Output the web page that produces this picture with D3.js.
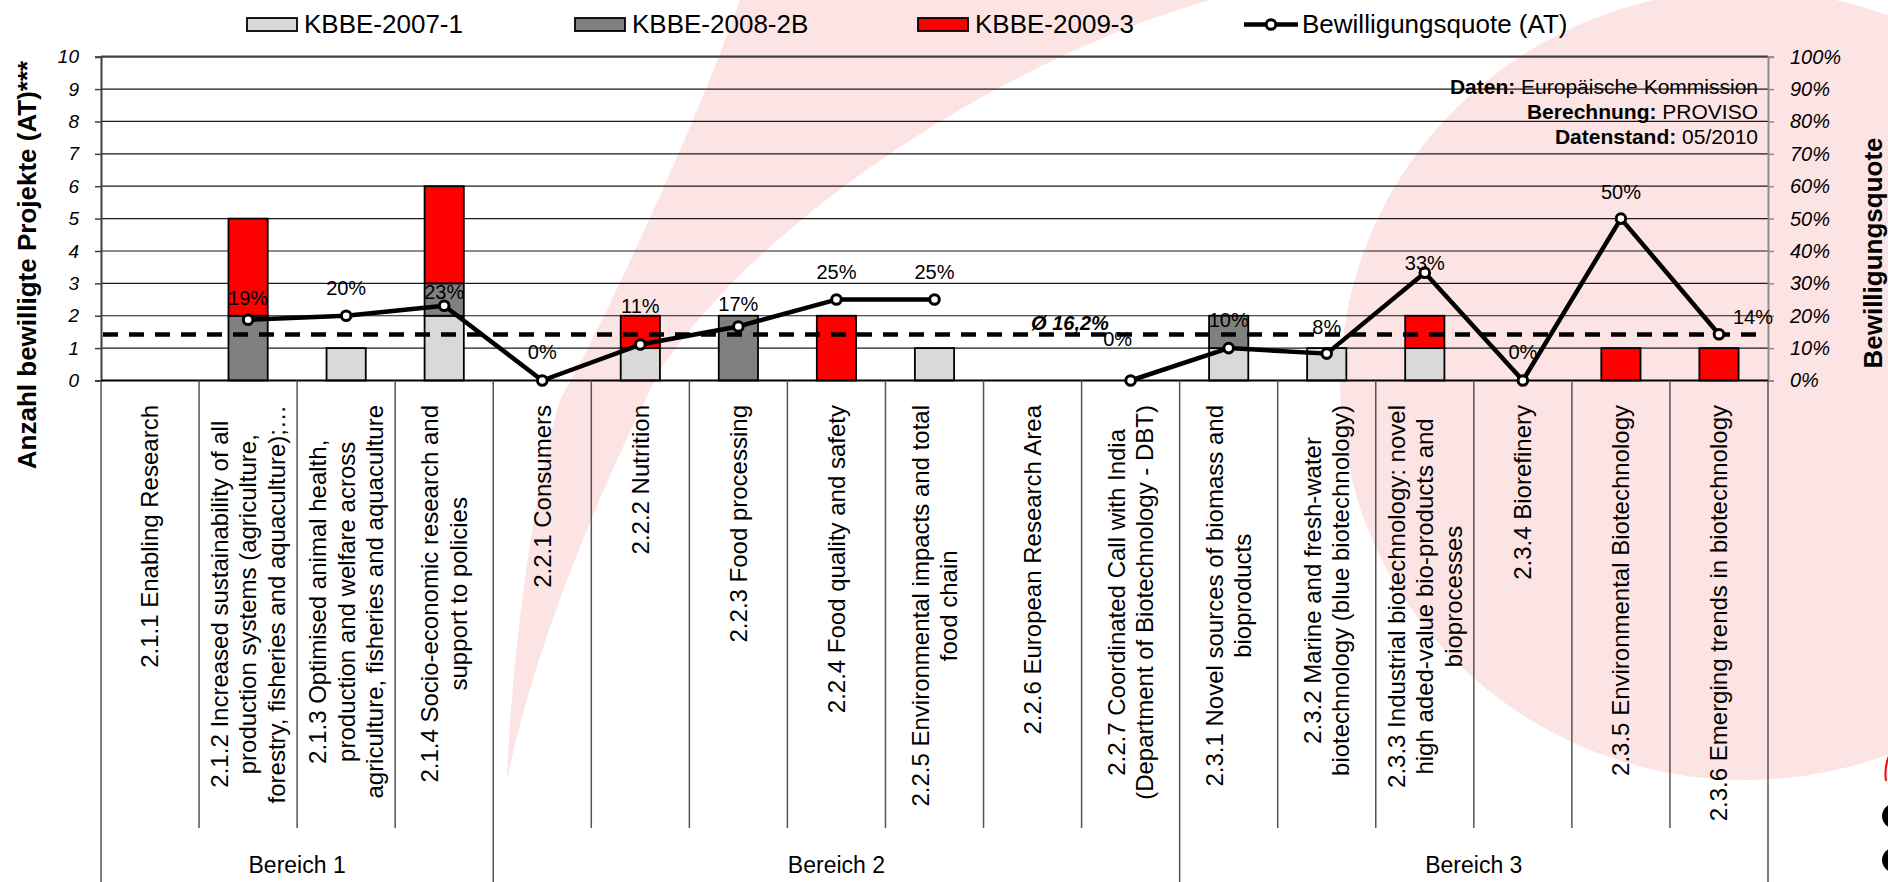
<!DOCTYPE html>
<html><head><meta charset="utf-8">
<script src="https://cdn.jsdelivr.net/npm/d3@7"></script>
<style>
html,body{margin:0;padding:0;background:#fff;}
svg{display:block;font-family:"Liberation Sans", Arial, sans-serif;}
</style></head><body>
<svg id="chart" width="1888" height="882"></svg>
<script>
// ---------- DATA ----------
const categories = [
  ["2.1.1 Enabling Research"],
  ["2.1.2 Increased sustainability of all","production systems (agriculture,","forestry, fisheries and aquaculture);\u2026"],
  ["2.1.3 Optimised animal health,","production and welfare across","agriculture, fisheries and aquaculture"],
  ["2.1.4 Socio-economic research and","support to policies"],
  ["2.2.1 Consumers"],
  ["2.2.2 Nutrition"],
  ["2.2.3 Food processing"],
  ["2.2.4 Food quality and safety"],
  ["2.2.5 Environmental impacts and total","food chain"],
  ["2.2.6 European Research Area"],
  ["2.2.7 Coordinated Call with India","(Department of Biotechnology - DBT)"],
  ["2.3.1 Novel sources of biomass and","bioproducts"],
  ["2.3.2 Marine and fresh-water","biotechnology (blue biotechnology)"],
  ["2.3.3 Industrial biotechnology: novel","high aded-value bio-products and","bioprocesses"],
  ["2.3.4 Biorefinery"],
  ["2.3.5 Environmental Biotechnology"],
  ["2.3.6 Emerging trends in biotechnology"]
];
const groupNames = ["Bereich 1","Bereich 2","Bereich 3"];
const groupSizes = [4, 7, 6];
const kbbe2007 = [0,0,1,2,0,1,0,0,1,0,0,1,1,1,0,0,0];
const kbbe2008 = [0,2,0,1,0,0,2,0,0,0,0,1,0,0,0,0,0];
const kbbe2009 = [0,3,0,3,0,1,0,2,0,0,0,0,0,1,0,1,1];
const quote    = [null,0.1875,0.20,0.231,0,0.111,0.167,0.25,0.25,null,0,0.10,0.083,0.333,0,0.50,0.143];
const avgQuote = 0.142;
const avgLabel = "\u00D8 16,2%";
const leftTicks = [0,1,2,3,4,5,6,7,8,9,10];
const rightTicks = [0,0.1,0.2,0.3,0.4,0.5,0.6,0.7,0.8,0.9,1];
const seriesNames = ["KBBE-2007-1","KBBE-2008-2B","KBBE-2009-3"];
const lineName = "Bewilligungsquote (AT)";
const seriesColors = ["#d9d9d9","#808080","#ff0000"];
const leftTitle = "Anzahl bewilligte Projekte (AT)***";
const rightTitle = "Bewilligungsquote";
const sourceLines = [["Daten:"," Europäische Kommission"],["Berechnung:"," PROVISO"],["Datenstand:"," 05/2010"]];

// ---------- LAYOUT ----------
const L = 101, R = 1768, T = 56.7, B = 380.5;
const labelShift = [[0,0],[0,15],[0,21],[0,7],[0,22],[0,32],[0,15],[0,21],[0,21],[0,0],[-13,35],[0,21],[0,20],[0,3],[0,22],[0,20],[34,10]];
const legendX = [247, 575, 918, 1244];

const svg = d3.select("#chart");
const pink = "#fce4e4";

// background decoration
svg.append("ellipse").attr("cx",1745).attr("cy",385).attr("rx",405).attr("ry",395).attr("fill",pink);
svg.append("path").attr("fill",pink)
  .attr("d","M507,780 C512,650 535,480 560,400 C600,330 690,140 740,0 L1210,0 C1000,60 760,220 660,370 C620,450 540,620 507,780 Z");
svg.append("ellipse").attr("cx",1905).attr("cy",816).attr("rx",20).attr("ry",13).attr("fill","none").attr("stroke","#000").attr("stroke-width",6);
svg.append("ellipse").attr("cx",1905).attr("cy",860).attr("rx",20).attr("ry",13).attr("fill","none").attr("stroke","#000").attr("stroke-width",6);
svg.append("path").attr("d","M1889,756 Q1884,768 1886,781").attr("fill","none").attr("stroke","#f00").attr("stroke-width",2);

// scales
const idx = d3.range(categories.length);
const x = d3.scaleBand().domain(idx).range([L,R]).paddingInner(0).paddingOuter(0);
const bw = x.bandwidth();
const yL = d3.scaleLinear().domain([0,10]).range([B,T]);
const yR = d3.scaleLinear().domain([0,1]).range([B,T]);

// gridlines
svg.append("g").selectAll("line").data(leftTicks.filter(d=>d>0)).join("line")
  .attr("x1",L).attr("x2",R).attr("y1",d=>yL(d)).attr("y2",d=>yL(d))
  .attr("stroke",d=>d===10?"#404040":"#1a1a1a").attr("stroke-width",d=>d===10?2.2:1.2);

// axes
const axL = svg.append("g").attr("transform",`translate(${L},0)`)
  .call(d3.axisLeft(yL).tickValues(leftTicks).tickSize(6).tickPadding(16).tickFormat(d3.format("d")));
axL.select(".domain").attr("stroke","#404040").attr("stroke-width",2);
axL.selectAll(".tick line").attr("stroke","#404040").attr("stroke-width",1.5);
axL.selectAll("text").attr("font-size",19).attr("font-style","italic").attr("fill","#000")
  .attr("font-family","Liberation Sans, Arial, sans-serif");

const axR = svg.append("g").attr("transform",`translate(${R},0)`)
  .call(d3.axisRight(yR).tickValues(rightTicks).tickSize(6).tickPadding(16).tickFormat(d3.format(".0%")));
axR.select(".domain").attr("stroke","#8c8c8c").attr("stroke-width",2);
axR.selectAll(".tick line").attr("stroke","#8c8c8c").attr("stroke-width",1.5);
axR.selectAll("text").attr("font-size",20).attr("font-style","italic").attr("fill","#000")
  .attr("font-family","Liberation Sans, Arial, sans-serif");

// stacked bars
const stackData = idx.map(i => ({i, a:kbbe2007[i], b:kbbe2008[i], c:kbbe2009[i]}));
const stack = d3.stack().keys(["a","b","c"])(stackData);
svg.append("g").selectAll("g").data(stack).join("g")
  .attr("fill",(d,k)=>seriesColors[k])
  .selectAll("rect").data(d=>d.filter(s=>s[1]>s[0])).join("rect")
  .attr("x",s=>x(s.data.i)+bw*0.3).attr("width",bw*0.4)
  .attr("y",s=>yL(s[1])).attr("height",s=>yL(s[0])-yL(s[1]))
  .attr("stroke","#000").attr("stroke-width",1.8);

// bottom axis line
svg.append("line").attr("x1",L).attr("x2",R).attr("y1",B).attr("y2",B).attr("stroke","#000").attr("stroke-width",2);

// category separators
const groupBounds = [0];
groupSizes.forEach(s=>groupBounds.push(groupBounds[groupBounds.length-1]+s));
svg.append("g").selectAll("line").data(d3.range(categories.length+1)).join("line")
  .attr("x1",i=>L+i*bw).attr("x2",i=>L+i*bw).attr("y1",B)
  .attr("y2",i=>groupBounds.includes(i)?882:828)
  .attr("stroke","#555").attr("stroke-width",1.5);

// category labels
const catG = svg.append("g").attr("font-size",24).attr("fill","#000");
categories.forEach((lines,i)=>{
  const g = catG.append("g").attr("transform",`translate(${x(i)+bw/2},405) rotate(-90)`);
  const texts = lines.map((ln,j)=> g.append("text").text(ln)
      .attr("text-anchor","middle").attr("dy","0.35em")
      .attr("y",(j-(lines.length-1)/2)*28.5));
  const maxL = d3.max(texts, t=>t.node().getComputedTextLength());
  texts.forEach(t=>t.attr("x",-maxL/2));
});

// group labels
svg.append("g").selectAll("text").data(groupNames).join("text")
  .attr("x",(d,k)=>L+(groupBounds[k]+groupBounds[k+1])/2*bw).attr("y",873)
  .attr("text-anchor","middle").attr("font-size",23).text(d=>d);

// average dashed line
svg.append("line").attr("x1",L+2).attr("x2",R-4).attr("y1",yR(avgQuote)).attr("y2",yR(avgQuote))
  .attr("stroke","#000").attr("stroke-width",4.5).attr("stroke-dasharray","15,11");
svg.append("text").attr("x",1070).attr("y",330).attr("text-anchor","middle")
  .attr("font-size",20).attr("font-weight","bold").attr("font-style","italic").text(avgLabel);

// quote line
const pts = idx.map(i=>({i, v:quote[i]}));
svg.append("path").datum(pts)
  .attr("d",d3.line().defined(d=>d.v!=null).x(d=>x(d.i)+bw/2).y(d=>yR(d.v)))
  .attr("fill","none").attr("stroke","#000").attr("stroke-width",4.5).attr("stroke-linejoin","round");
const valid = pts.filter(d=>d.v!=null);
svg.append("g").selectAll("circle").data(valid).join("circle")
  .attr("cx",d=>x(d.i)+bw/2).attr("cy",d=>yR(d.v)).attr("r",4.8)
  .attr("fill","#fff").attr("stroke","#000").attr("stroke-width",3);
svg.append("g").selectAll("text").data(valid).join("text")
  .attr("x",d=>x(d.i)+bw/2+labelShift[d.i][0]).attr("y",d=>yR(d.v)-labelShift[d.i][1])
  .attr("text-anchor","middle").attr("font-size",20).text(d=>d3.format(".0%")(d.v));

// source note
const src = svg.append("g").attr("font-size",21);
sourceLines.forEach((p,k)=>{
  const t = src.append("text").attr("x",1758).attr("y",93.5+k*25.3).attr("text-anchor","end");
  t.append("tspan").attr("font-weight","bold").text(p[0]);
  t.append("tspan").text(p[1]);
});

// axis titles
svg.append("text").attr("transform","translate(36,265) rotate(-90)").attr("text-anchor","middle")
  .attr("font-size",26).attr("font-weight","bold").text(leftTitle);
svg.append("text").attr("transform","translate(1882,253) rotate(-90)").attr("text-anchor","middle")
  .attr("font-size",26).attr("font-weight","bold").text(rightTitle);

// legend
const lg = svg.append("g");
seriesNames.forEach((n,k)=>{
  lg.append("rect").attr("x",legendX[k]).attr("y",18).attr("width",50).attr("height",13)
    .attr("fill",seriesColors[k]).attr("stroke","#000").attr("stroke-width",1.8);
  lg.append("text").attr("x",legendX[k]+57).attr("y",33).attr("font-size",26).text(n);
});
lg.append("line").attr("x1",legendX[3]).attr("x2",legendX[3]+54).attr("y1",24.5).attr("y2",24.5)
  .attr("stroke","#000").attr("stroke-width",4.5);
lg.append("circle").attr("cx",legendX[3]+27).attr("cy",24.5).attr("r",4.8)
  .attr("fill","#fff").attr("stroke","#000").attr("stroke-width",3);
lg.append("text").attr("x",legendX[3]+58).attr("y",33).attr("font-size",26).text(lineName);
</script>
</body></html>
